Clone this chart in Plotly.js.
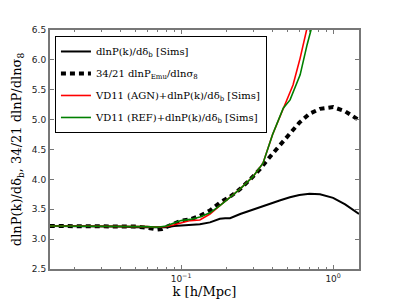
<!DOCTYPE html>
<html><head><meta charset="utf-8">
<script src="https://cdn.plot.ly/plotly-3.0.1.min.js"></script>
<style>html,body{margin:0;padding:0;background:#fff}#c{width:399px;height:299px}</style>
</head><body><div id="c"></div>
<script>
// Sims: dlnP(k)/d delta_b
const kSims = [0.0137,0.02,0.03,0.04,0.05,0.06,0.07,0.08,0.09,0.1,0.115,0.133,0.155,0.18,0.195,0.21,0.245,0.285,0.33,0.385,0.45,0.52,0.6,0.7,0.82,1.0,1.2,1.48];
const vSims = [3.22,3.22,3.21,3.21,3.20,3.20,3.19,3.20,3.22,3.23,3.24,3.25,3.28,3.34,3.35,3.35,3.42,3.48,3.54,3.60,3.65,3.70,3.74,3.76,3.75,3.69,3.58,3.42];
// Emulator: 34/21 dlnP/dln sigma8
const kEmu = [0.0137,0.02,0.03,0.04,0.05,0.06,0.065,0.07,0.075,0.08,0.09,0.1,0.115,0.133,0.155,0.18,0.21,0.245,0.285,0.33,0.385,0.45,0.52,0.6,0.7,0.82,1.0,1.2,1.48];
const vEmu = [3.22,3.22,3.21,3.21,3.21,3.19,3.17,3.16,3.17,3.20,3.27,3.31,3.33,3.39,3.48,3.61,3.71,3.84,4.00,4.17,4.38,4.58,4.78,4.95,5.10,5.18,5.21,5.14,4.99];
// VD11 (AGN) + Sims
const kAGN = [0.0137,0.02,0.03,0.04,0.05,0.06,0.07,0.08,0.09,0.1,0.115,0.133,0.155,0.18,0.21,0.245,0.298,0.346,0.40,0.47,0.545,0.607,0.674,0.72];
const vAGN = [3.22,3.22,3.22,3.22,3.21,3.21,3.20,3.21,3.24,3.27,3.31,3.32,3.42,3.56,3.70,3.84,4.05,4.27,4.75,5.19,5.58,6.03,6.50,6.85];
// VD11 (REF) + Sims
const kREF = [0.0137,0.02,0.03,0.04,0.05,0.06,0.07,0.08,0.09,0.1,0.115,0.133,0.155,0.18,0.21,0.245,0.298,0.346,0.40,0.47,0.521,0.607,0.674,0.72,0.76];
const vREF = [3.22,3.22,3.22,3.22,3.21,3.21,3.20,3.22,3.27,3.31,3.33,3.37,3.44,3.56,3.70,3.84,4.05,4.27,4.75,5.19,5.33,5.75,6.25,6.50,6.75];

const names = ['dlnP(k)/dδ<sub>b</sub> [Sims]','34/21 dlnP<sub>Emu</sub>/dlnσ<sub>8</sub>','VD11 (AGN)+dlnP(k)/dδ<sub>b</sub> [Sims]','VD11 (REF)+dlnP(k)/dδ<sub>b</sub> [Sims]'];
const yTicks = [2.5,3.0,3.5,4.0,4.5,5.0,5.5,6.0,6.5];
const xMinor = [0.02,0.03,0.04,0.05,0.06,0.07,0.08,0.09,0.2,0.3,0.4,0.5,0.6,0.7,0.8,0.9];

const traces = [
 {x:kSims,y:vSims,name:names[0],legendgroup:'a',mode:'lines',line:{color:'#000',width:2}},
 {x:kEmu,y:vEmu,name:names[1],legendgroup:'b',mode:'lines',line:{color:'#000',width:4,dash:'5px,4px'}},
 {x:kAGN,y:vAGN,name:names[2],legendgroup:'c',mode:'lines',line:{color:'#ff0000',width:1.6}},
 {x:kREF,y:vREF,name:names[3],legendgroup:'d',mode:'lines',line:{color:'#008000',width:1.6}}
];
const axcol='#777';
const layout = {
 width:399,height:299,margin:{l:50,r:40,t:30,b:30},
 paper_bgcolor:'#fff',plot_bgcolor:'#fff',showlegend:true,
 font:{family:'DejaVu Sans',size:9,color:'#222'},
 xaxis:{type:'log',range:[Math.log10(0.01375),Math.log10(1.48)],
   tickvals:[0.1,1],ticktext:['10<sup>−1</sup>','10<sup>0</sup>'],
   ticks:'inside',ticklen:4,tickcolor:axcol,showline:true,linecolor:axcol,linewidth:2,mirror:'ticks',
   showgrid:false,zeroline:false,tickfont:{size:9},
   minor:{tickvals:xMinor,ticks:'inside',ticklen:2,tickcolor:axcol,showgrid:false},
   title:{text:'k [h/Mpc]',font:{family:'DejaVu Serif',size:13,color:'#000'},standoff:6}},
 yaxis:{range:[2.5,6.5],tickvals:yTicks,ticktext:yTicks.map(v=>v.toFixed(1)),
   ticks:'inside',ticklen:4,tickcolor:axcol,showline:true,linecolor:axcol,linewidth:2,mirror:'ticks',
   showgrid:false,zeroline:false,tickfont:{size:9},
   title:{text:'dlnP(k)/dδ<sub>b</sub>, 34/21 dlnP/dlnσ<sub>8</sub>',font:{family:'DejaVu Serif',size:13,color:'#000'},standoff:7}},
 legend:{x:0.016,y:0.975,xanchor:'left',yanchor:'top',bgcolor:'#fff',bordercolor:'#000',borderwidth:1,
   font:{family:'DejaVu Serif',size:10,color:'#000'},tracegroupgap:3}
};
Plotly.newPlot('c',traces,layout,{displayModeBar:false,staticPlot:true});
</script></body></html>
